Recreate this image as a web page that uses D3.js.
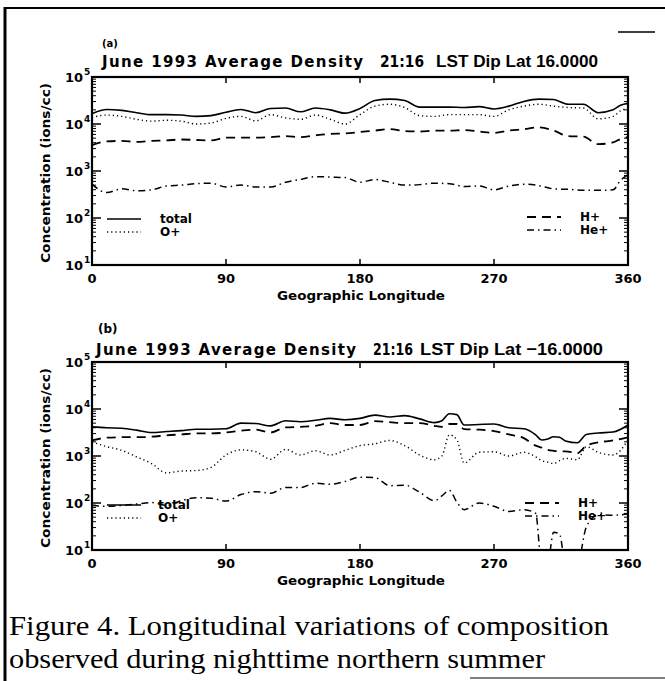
<!DOCTYPE html>
<html>
<head>
<meta charset="utf-8">
<script src="https://cdn.jsdelivr.net/npm/d3@7"></script>
<style>
  body { margin: 0; background: #fff; }
  svg { display: block; }
  .tick-lab { font-family: "DejaVu Sans", sans-serif; font-weight: bold; }
</style>
</head>
<body>
<div id="fig"></div>
<script>
// longitudes and concentrations (ions/cc)
var lonA = [0,10,20,30,40,50,60,70,80,90,100,110,120,130,140,150,160,170,180,190,200,210,220,230,240,250,260,270,280,290,300,310,320,330,340,350,355,360];
var totalA = [16600,20400,19500,17400,15800,15800,15500,14500,15100,17800,20400,17400,21400,21900,18200,21900,20000,17000,21400,31600,33900,31600,22900,22900,22900,22400,23400,20900,24000,30200,33900,33100,26300,26300,17400,20000,25100,27500];
var oxyA = [13800,15500,14500,12600,11500,12000,11500,10000,10500,13200,14500,11700,15800,13500,12600,15500,12600,10000,15800,24000,26300,22400,15100,14500,15800,15800,15800,14500,20000,24000,26300,24000,22400,21900,12900,14500,19100,21400];
var hydA = [3550,4270,4370,4170,4370,4470,4680,4570,4470,5130,5130,5130,5250,5500,5250,5750,6170,6310,6760,7240,7760,7080,6920,7240,7240,7410,6920,6460,7240,7760,8510,7240,5500,5370,3720,4070,4790,5250];
var heA = [525,347,417,380,398,479,501,537,550,457,501,457,457,575,661,759,741,724,575,661,575,501,513,550,537,468,479,398,479,525,490,417,407,389,389,398,631,832];

var lonB = [0,10,20,30,40,50,60,70,80,90,100,110,120,130,140,150,160,170,180,190,200,210,220,230,235,240,245,250,260,270,280,290,298,302,306,310,314,318,326,332,340,350,360];
var totalB = [4170,3980,3890,3550,3160,3310,3470,3720,3720,3800,5010,4900,4370,5620,5370,5750,6310,5890,6310,7410,6760,7240,6170,5130,5620,7940,7590,4570,4680,4790,3980,3800,2820,2190,2290,2570,2510,2090,1910,2880,3090,3240,4570];
var oxyB = [2000,1580,1320,955,692,437,479,490,575,1050,1350,1230,851,1380,1050,1290,1050,1320,1660,1820,2140,1660,1050,832,1000,2820,2240,708,1200,1230,1000,1200,955,794,741,692,794,891,832,1580,1200,1050,2190];
var hydB = [2140,2450,2510,2510,2570,2750,2880,3020,3020,3160,3470,3630,3160,4070,4170,4370,5010,4570,4570,5500,5250,5010,5010,4370,4170,4790,4790,3720,3630,3390,2880,2400,1660,1510,1350,1290,1260,1260,1150,1660,1950,2140,2510];
var heB = [89,85,89,95,102,89,112,129,126,110,151,174,162,214,214,263,251,288,355,347,234,240,170,112,141,186,105,72,100,85,66,72,60,5,5,24,22,5,5,31,56,55,58];

var xTicks = [0, 90, 180, 270, 360];
var yDecades = [1, 2, 3, 4, 5];
var seriesNames = ["total", "O+", "H+", "He+"];

var W = 665, H = 681;
var plotL = 92, plotR = 628;

var styles = {
  "total": {dash: null, w: 1.6},
  "O+": {dash: "1.2,3", w: 1.4},
  "H+": {dash: "9,6", w: 1.8},
  "He+": {dash: "7,4,1.5,4", w: 1.5}
};

const svg = d3.select("#fig").append("svg")
  .attr("width", W).attr("height", H);

// outer frame pieces
svg.append("line").attr("x1", 5).attr("x2", 5).attr("y1", 7).attr("y2", H)
  .attr("stroke", "#000").attr("stroke-width", 3);
svg.append("line").attr("x1", 4).attr("x2", W).attr("y1", 8).attr("y2", 8)
  .attr("stroke", "#000").attr("stroke-width", 2);
svg.append("line").attr("x1", 618).attr("x2", 655).attr("y1", 32).attr("y2", 32)
  .attr("stroke", "#000").attr("stroke-width", 1.5);
svg.append("line").attr("x1", 470).attr("x2", W).attr("y1", 678).attr("y2", 678)
  .attr("stroke", "#555").attr("stroke-width", 1.5);

function drawPanel(p) {
  const x = d3.scaleLinear().domain([0, 360]).range([plotL, plotR]);
  const y = d3.scaleLog().domain([10, 1e5]).range([p.bottom, p.top]);
  const g = svg.append("g");

  const clipId = "clip" + p.tag;
  svg.append("clipPath").attr("id", clipId).append("rect")
    .attr("x", plotL).attr("y", p.top).attr("width", plotR - plotL).attr("height", p.bottom - p.top);

  // curves
  const line = d3.line()
    .x(d => x(d[0])).y(d => y(d[1]))
    .curve(d3.curveMonotoneX);
  p.series.forEach(function(s) {
    const st = styles[s.name];
    g.append("path")
      .datum(p.lon.map((l, i) => [l, s.values[i]]))
      .attr("d", line)
      .attr("clip-path", "url(#" + clipId + ")")
      .attr("fill", "none").attr("stroke", "#000")
      .attr("stroke-width", st.w)
      .attr("stroke-dasharray", st.dash);
  });

  // frame
  g.append("rect").attr("x", plotL).attr("y", p.top)
    .attr("width", plotR - plotL).attr("height", p.bottom - p.top)
    .attr("fill", "none").attr("stroke", "#000").attr("stroke-width", 2.2);

  // log ticks on both sides
  yDecades.forEach(function(d) {
    const v = Math.pow(10, d);
    g.append("line").attr("x1", plotL).attr("x2", plotL + 9).attr("y1", y(v)).attr("y2", y(v))
      .attr("stroke", "#000").attr("stroke-width", 1.5);
    g.append("line").attr("x1", plotR).attr("x2", plotR - 9).attr("y1", y(v)).attr("y2", y(v))
      .attr("stroke", "#000").attr("stroke-width", 1.5);
    g.append("text").attr("class", "tick-lab")
      .attr("x", 83).attr("y", y(v) + 5).attr("text-anchor", "end")
      .attr("font-size", 13).text("10");
    g.append("text").attr("class", "tick-lab")
      .attr("x", 84).attr("y", y(v) - 2).attr("font-size", 9).text(d);
    if (d < 5) {
      for (let k = 2; k <= 9; k++) {
        const mv = k * v;
        g.append("line").attr("x1", plotL).attr("x2", plotL + 4).attr("y1", y(mv)).attr("y2", y(mv))
          .attr("stroke", "#000").attr("stroke-width", 1);
        g.append("line").attr("x1", plotR).attr("x2", plotR - 4).attr("y1", y(mv)).attr("y2", y(mv))
          .attr("stroke", "#000").attr("stroke-width", 1);
      }
    }
  });

  // x ticks
  xTicks.forEach(function(t) {
    if (t > 0 && t < 360) {
      g.append("line").attr("x1", x(t)).attr("x2", x(t)).attr("y1", p.bottom).attr("y2", p.bottom - 6)
        .attr("stroke", "#000").attr("stroke-width", 1.5);
      g.append("line").attr("x1", x(t)).attr("x2", x(t)).attr("y1", p.top).attr("y2", p.top + 6)
        .attr("stroke", "#000").attr("stroke-width", 1.5);
    }
    g.append("text").attr("class", "tick-lab")
      .attr("x", x(t)).attr("y", p.bottom + 18).attr("text-anchor", "middle")
      .attr("font-size", 13).text(t);
  });

  g.append("text").attr("class", "tick-lab")
    .attr("x", 361).attr("y", p.bottom + 35).attr("text-anchor", "middle")
    .attr("font-size", 12).attr("textLength", 168).attr("lengthAdjust", "spacingAndGlyphs")
    .text("Geographic Longitude");

  const mid = (p.top + p.bottom) / 2;
  g.append("text").attr("class", "tick-lab")
    .attr("transform", "translate(50," + (mid + 2) + ") rotate(-90)")
    .attr("text-anchor", "middle").attr("font-size", 12)
    .attr("textLength", 180).attr("lengthAdjust", "spacingAndGlyphs")
    .text("Concentration (ions/cc)");

  // panel tag and title
  g.append("text").attr("class", "tick-lab")
    .attr("x", p.tagX).attr("y", p.tagY).attr("font-size", p.tagSize).text("(" + p.tag + ")");
  g.append("text")
    .attr("x", p.t1[0]).attr("y", p.titleY)
    .attr("font-family", "DejaVu Sans, sans-serif").attr("font-weight", "bold").attr("font-size", 15)
    .attr("textLength", p.t1[1]).attr("lengthAdjust", "spacing")
    .text("June 1993 Average Density");
  g.append("text")
    .attr("x", p.t2[0]).attr("y", p.titleY)
    .attr("font-family", "DejaVu Sans, sans-serif").attr("font-weight", "bold").attr("font-size", 15)
    .attr("textLength", p.t2[1]).attr("lengthAdjust", "spacingAndGlyphs")
    .text("21:16");
  g.append("text")
    .attr("x", p.t3[0]).attr("y", p.titleY)
    .attr("font-family", "Liberation Sans Narrow, Liberation Sans, sans-serif")
    .attr("font-weight", "bold").attr("font-size", 17)
    .attr("textLength", p.t3[1]).attr("lengthAdjust", "spacingAndGlyphs")
    .text("LST Dip Lat " + p.lat);

  // legends
  p.legend.forEach(function(l) {
    const st = styles[l.name];
    g.append("line").attr("x1", l.x).attr("x2", l.x + 34).attr("y1", l.y).attr("y2", l.y)
      .attr("stroke", "#000").attr("stroke-width", st.w).attr("stroke-dasharray", st.dash);
    g.append("text").attr("class", "tick-lab")
      .attr("x", l.tx).attr("y", l.y + 4).attr("font-size", 12).text(l.name);
  });
}

drawPanel({
  tag: "a", top: 77, bottom: 265, lon: lonA,
  series: [{name: "total", values: totalA}, {name: "O+", values: oxyA},
           {name: "H+", values: hydA}, {name: "He+", values: heA}],
  tagX: 102, tagY: 47, tagSize: 10,
  titleY: 67, t1: [102, 261], t2: [380, 44], t3: [436, 162], lat: "16.0000",
  legend: [{name: seriesNames[0], x: 107, y: 219, tx: 160}, {name: seriesNames[1], x: 107, y: 232, tx: 160},
           {name: seriesNames[2], x: 527, y: 217, tx: 580}, {name: seriesNames[3], x: 527, y: 230, tx: 580}]
});

drawPanel({
  tag: "b", top: 362, bottom: 550, lon: lonB,
  series: [{name: "total", values: totalB}, {name: "O+", values: oxyB},
           {name: "H+", values: hydB}, {name: "He+", values: heB}],
  tagX: 98, tagY: 333, tagSize: 12,
  titleY: 355, t1: [96, 260], t2: [373, 40], t3: [420, 183], lat: "\u221216.0000",
  legend: [{name: seriesNames[0], x: 107, y: 505, tx: 158}, {name: seriesNames[1], x: 107, y: 518, tx: 158},
           {name: seriesNames[2], x: 525, y: 503, tx: 578}, {name: seriesNames[3], x: 525, y: 516, tx: 578}]
});

// caption
svg.append("text").attr("x", 9).attr("y", 635)
  .attr("font-family", "Liberation Serif, serif").attr("font-size", 28)
  .attr("textLength", 600).attr("lengthAdjust", "spacingAndGlyphs")
  .text("Figure 4.  Longitudinal variations of composition");
svg.append("text").attr("x", 9).attr("y", 668)
  .attr("font-family", "Liberation Serif, serif").attr("font-size", 28)
  .attr("textLength", 536).attr("lengthAdjust", "spacingAndGlyphs")
  .text("observed during nighttime northern summer");
</script>
</body>
</html>
